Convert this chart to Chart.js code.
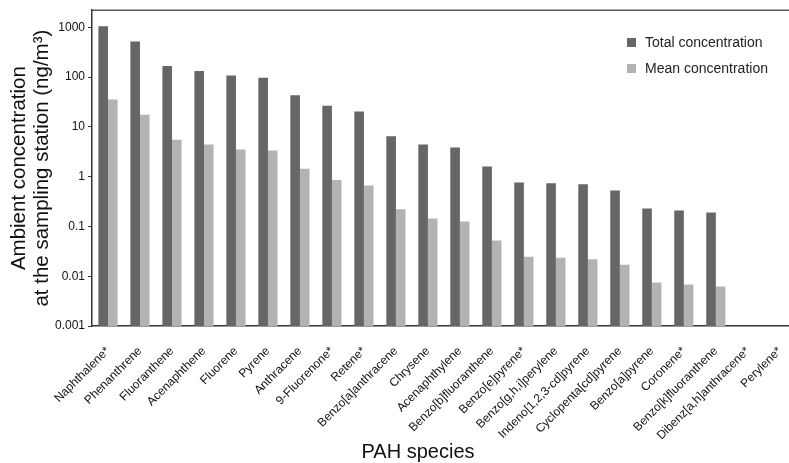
<!DOCTYPE html>
<html>
<head>
<meta charset="utf-8">
<script src="https://cdn.jsdelivr.net/npm/chart.js@4.4.0/dist/chart.umd.min.js"></script>
<style>
  html, body { margin: 0; padding: 0; overflow: hidden; background: #fff; }
  #wrap { width: 800px; height: 463px; position: relative; }
</style>
</head>
<body>
<div id="wrap"><canvas id="pahChart"></canvas></div>
<script>
// species on the x axis (* = marked compounds)
const species = [
  'Naphthalene*', 'Phenanthrene', 'Fluoranthene', 'Acenaphthene', 'Fluorene',
  'Pyrene', 'Anthracene', '9-Fluorenone*', 'Retene*', 'Benzo[a]anthracene',
  'Chrysene', 'Acenaphthylene', 'Benzo[b]fluoranthene', 'Benzo[e]pyrene*',
  'Benzo[g,h,i]perylene', 'Indeno[1,2,3-cd]pyrene', 'Cyclopenta[cd]pyrene',
  'Benzo[a]pyrene', 'Coronene*', 'Benzo[k]fluoranthene',
  'Dibenz[a,h]anthracene*', 'Perylene*'
];

// ng/m3
const totalConc = [
  1050, 515, 167, 132, 107, 97, 43, 26.5, 20.4, 6.5,
  4.4, 3.85, 1.6, 0.76, 0.74, 0.70, 0.525, 0.228, 0.208, 0.19,
  null, null
];
const meanConc = [
  35.6, 17.5, 5.5, 4.4, 3.5, 3.35, 1.44, 0.86, 0.66, 0.22,
  0.144, 0.125, 0.052, 0.0247, 0.0235, 0.022, 0.017, 0.0075, 0.0068, 0.0062,
  null, null
];

const yTicks = [0.001, 0.01, 0.1, 1, 10, 100, 1000];
const yTickLabels = ['0.001', '0.01', '0.1', '1', '10', '100', '1000'];

const FONT = "'Liberation Sans', Arial, sans-serif";

// top frame line, legend inside the plot, x title (off-centre in the original)
const framePlugin = {
  id: 'frame',
  afterDraw(chart) {
    const ctx = chart.ctx;
    const area = chart.chartArea;
    ctx.save();
    ctx.strokeStyle = '#555';
    ctx.lineWidth = 1.5;
    ctx.beginPath();
    ctx.moveTo(area.left, area.top);
    ctx.lineTo(area.right, area.top);
    ctx.stroke();

    ctx.font = '14px ' + FONT;
    ctx.textBaseline = 'middle';
    ctx.textAlign = 'left';
    chart.data.datasets.forEach((ds, i) => {
      const y = 42 + i * 26;
      ctx.fillStyle = ds.backgroundColor;
      ctx.fillRect(627, y - 4, 9, 9);
      ctx.fillStyle = '#222';
      ctx.fillText(ds.label, 645, y + 1);
    });

    ctx.font = '20px ' + FONT;
    ctx.textAlign = 'center';
    ctx.fillStyle = '#111';
    ctx.fillText('PAH species', 418, 452);
    ctx.restore();
  }
};

document.addEventListener('DOMContentLoaded', function () {
  const ctx = document.getElementById('pahChart').getContext('2d');
  new Chart(ctx, {
    type: 'bar',
    data: {
      labels: species,
      datasets: [{
        label: 'Total concentration',
        data: totalConc,
        backgroundColor: '#666666',
        categoryPercentage: 0.6,
        barPercentage: 1.0
      }, {
        label: 'Mean concentration',
        data: meanConc,
        backgroundColor: '#b3b3b3',
        categoryPercentage: 0.6,
        barPercentage: 1.0
      }]
    },
    options: {
      responsive: true,
      maintainAspectRatio: false,
      animation: false,
      layout: { padding: { left: 0, right: 0, top: 10, bottom: 0 } },
      plugins: {
        legend: { display: false },
        tooltip: { enabled: false }
      },
      scales: {
        x: {
          grid: { display: false },
          border: { display: true, color: '#333', width: 1.5 },
          ticks: {
            autoSkip: false,
            maxRotation: 45,
            minRotation: 45,
            padding: 10,
            color: '#111',
            font: { family: FONT, size: 12 }
          },
          afterFit: function (axis) { axis.height = 137; }
        },
        y: {
          type: 'logarithmic',
          min: 0.001,
          max: 2200,
          grid: { display: true, drawOnChartArea: false, drawTicks: true, tickLength: 4, color: '#333' },
          border: { display: true, color: '#333', width: 1.5 },
          afterBuildTicks: function (axis) {
            axis.ticks = yTicks.map(v => ({ value: v }));
          },
          ticks: {
            padding: 3,
            color: '#111',
            font: { family: FONT, size: 12 },
            callback: function (value) {
              return yTickLabels[yTicks.indexOf(value)];
            }
          },
          title: {
            display: true,
            text: ['Ambient concentration', 'at the sampling station (ng/m\u00b3)'],
            color: '#111',
            padding: { top: 8, bottom: 0 },
            font: { family: FONT, size: 20.5, lineHeight: 1.12 }
          },
          afterFit: function (axis) { axis.width = 92; }
        }
      }
    },
    plugins: [framePlugin]
  });
});
</script>
</body>
</html>
